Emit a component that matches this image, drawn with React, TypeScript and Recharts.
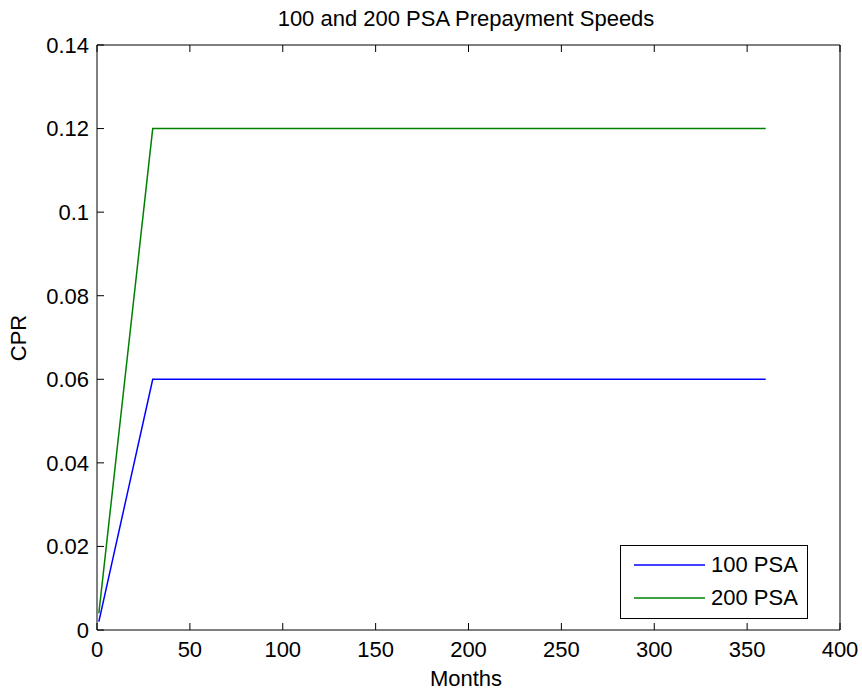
import React from 'react';
import { LineChart, Line, XAxis, YAxis, Legend, Label } from 'recharts';

const months = [1, 30, 360];
const psa100 = [0.002, 0.06, 0.06];
const psa200 = [0.004, 0.12, 0.12];
const xTicks = [0, 50, 100, 150, 200, 250, 300, 350, 400];
const yTicks = [0, 0.02, 0.04, 0.06, 0.08, 0.1, 0.12, 0.14];

const FONT = '"Liberation Sans", Arial, Helvetica, sans-serif';
const TICK_LEN = 7;

const chartData = months.map((m, i) => ({ month: m, psa100: psa100[i], psa200: psa200[i] }));

const fmt = (v: number) => String(Number(v.toFixed(4)));

// MATLAB-style ticks: labels outside, tick marks pointing into the plot
const BottomTick = (props: any) => {
  const { x, y, payload } = props;
  const axisY = y - 11;
  return (
    <g>
      <line x1={x} x2={x} y1={axisY} y2={axisY - TICK_LEN} stroke="#000" />
      <text x={x} y={y} dy="0.71em" textAnchor="middle" fill="#000" fontSize={22} fontFamily={FONT}>
        {fmt(payload.value)}
      </text>
    </g>
  );
};

const LeftTick = (props: any) => {
  const { x, y, payload } = props;
  const axisX = x + 8;
  return (
    <g>
      <line x1={axisX} x2={axisX + TICK_LEN} y1={y} y2={y} stroke="#000" />
      <text x={x} y={y} dy="0.355em" textAnchor="end" fill="#000" fontSize={22} fontFamily={FONT}>
        {fmt(payload.value)}
      </text>
    </g>
  );
};

const TopTick = (props: any) => {
  const { x, y } = props;
  return <line x1={x} x2={x} y1={y} y2={y + TICK_LEN} stroke="#000" />;
};

const RightTick = (props: any) => {
  const { x, y } = props;
  return <line x1={x} x2={x - TICK_LEN} y1={y} y2={y} stroke="#000" />;
};

const LegendBox = (props: any) => {
  const items = props.payload || [];
  return (
    <div
      style={{
        border: '1.5px solid #000',
        background: '#fff',
        width: 186,
        height: 70,
        boxSizing: 'content-box',
        fontFamily: FONT,
        fontSize: 22,
        color: '#000',
        paddingTop: 2,
      }}
    >
      {items.map((it: any) => (
        <div key={it.value} style={{ display: 'flex', alignItems: 'center', height: 33 }}>
          <svg width={84} height={10} style={{ display: 'block' }}>
            <line x1={13} x2={84} y1={5} y2={5} stroke={it.color} strokeWidth={1.5} />
          </svg>
          <span style={{ marginLeft: 6 }}>{it.value}</span>
        </div>
      ))}
    </div>
  );
};

export default function App() {
  return (
    <div style={{ position: 'absolute', left: 0, top: 0, width: 862, height: 690, background: '#fff' }}>
      <LineChart width={862} height={690} data={chartData} margin={{ top: 0, right: 0, bottom: 0, left: 0 }}>
        <XAxis
          dataKey="month"
          type="number"
          domain={[0, 400]}
          ticks={xTicks}
          height={60}
          stroke="#000"
          tickLine={false}
          tickSize={0}
          tickMargin={11}
          tick={<BottomTick />}
          interval={0}
        >
          <Label
            content={() => (
              <text x={466} y={686} textAnchor="middle" fill="#000" fontSize={22} fontFamily={FONT}>
                Months
              </text>
            )}
          />
        </XAxis>
        <XAxis
          xAxisId="top"
          orientation="top"
          dataKey="month"
          type="number"
          domain={[0, 400]}
          ticks={xTicks}
          height={45}
          stroke="#000"
          tickLine={false}
          tickSize={0}
          tickMargin={0}
          tick={<TopTick />}
          interval={0}
        >
          <Label
            content={() => (
              <text x={466} y={26} textAnchor="middle" fill="#000" fontSize={22} fontFamily={FONT}>
                100 and 200 PSA Prepayment Speeds
              </text>
            )}
          />
        </XAxis>
        <YAxis
          type="number"
          domain={[0, 0.14]}
          ticks={yTicks}
          width={97}
          stroke="#000"
          tickLine={false}
          tickSize={0}
          tickMargin={8}
          tick={<LeftTick />}
          interval={0}
        >
          <Label
            content={() => (
              <text
                x={26}
                y={338}
                transform="rotate(-90 26 338)"
                textAnchor="middle"
                fill="#000"
                fontSize={22}
                fontFamily={FONT}
              >
                CPR
              </text>
            )}
          />
        </YAxis>
        <YAxis
          yAxisId="right"
          orientation="right"
          type="number"
          domain={[0, 0.14]}
          ticks={yTicks}
          width={22}
          stroke="#000"
          tickLine={false}
          tickSize={0}
          tickMargin={0}
          tick={<RightTick />}
          interval={0}
        />
        <Legend
          layout="vertical"
          align="center"
          verticalAlign="middle"
          content={<LegendBox />}
          wrapperStyle={{ left: 620, top: 545, width: 189, height: 73 }}
        />
        <Line
          type="linear"
          dataKey="psa100"
          name="100 PSA"
          stroke="#0000ff"
          strokeWidth={1.5}
          dot={false}
          isAnimationActive={false}
        />
        <Line
          type="linear"
          dataKey="psa200"
          name="200 PSA"
          stroke="#008000"
          strokeWidth={1.5}
          dot={false}
          isAnimationActive={false}
        />
      </LineChart>
    </div>
  );
}
